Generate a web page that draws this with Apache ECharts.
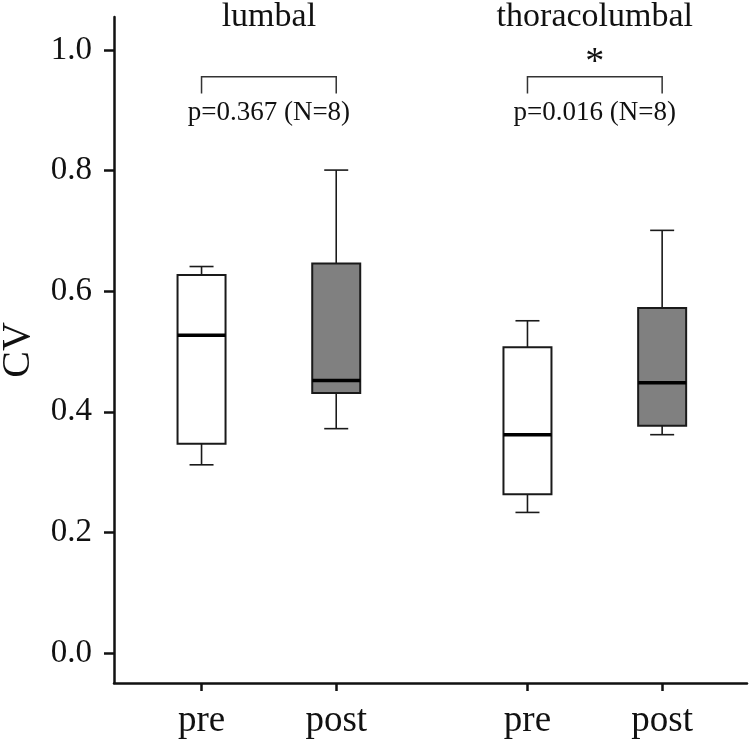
<!DOCTYPE html>
<html><head><meta charset="utf-8">
<script src="https://cdn.jsdelivr.net/npm/echarts@6/dist/echarts.min.js"></script>
<style>html,body{margin:0;padding:0;background:#fff}#c{width:750px;height:743px}</style>
</head><body><div id="c"></div>
<script>
// ---- data ----
const categories = ['pre', 'post', 'pre', 'post'];
const groupNames = ['lumbal', 'thoracolumbal'];
const mins    = [0.312, 0.372, 0.233, 0.362];
const q1s     = [0.347, 0.431, 0.263, 0.377];
const medians = [0.527, 0.452, 0.362, 0.448];
const q3s     = [0.627, 0.646, 0.507, 0.572];
const maxs    = [0.641, 0.801, 0.551, 0.701];
const yTicks  = [0, 0.2, 0.4, 0.6, 0.8, 1.0];
const pLabels = ['p=0.367 (N=8)', 'p=0.016 (N=8)'];
const sigMarks = ['', '*'];

// ---- layout / style constants ----
const GROUP_GAP = 0.42;
const pos = i => 1 + i + Math.floor(i / 2) * GROUP_GAP;
const positions = categories.map((_, i) => pos(i));
const BOX_W = 48, CAP_W = 24;
const FONT = '"Liberation Serif","Times New Roman",serif';
const INK = '#111111';
const BRACKET_TOP = 0.956, BRACKET_LEG = 0.928, P_Y = 0.8966, STAR_Y = 0.978, TITLE_Y = 1.055;

const boxData = positions.map((p, i) => [p, mins[i], q1s[i], medians[i], q3s[i], maxs[i]]);
const groupData = groupNames.map((g, k) => [positions[2 * k], positions[2 * k + 1]]);

function renderBox(params, api) {
  const x = api.value(0);
  const c = v => api.coord([x, v]);
  const pMin = c(api.value(1)), pQ1 = c(api.value(2)), pMed = c(api.value(3)),
        pQ3 = c(api.value(4)), pMax = c(api.value(5));
  const cx = pMin[0], hw = BOX_W / 2, cw = CAP_W / 2;
  const fill = params.dataIndex % 2 === 1 ? '#808080' : '#ffffff';
  const ls = { stroke: '#1a1a1a', lineWidth: 1.6 };
  return {
    type: 'group',
    children: [
      { type: 'line', shape: { x1: cx, y1: pQ3[1], x2: cx, y2: pMax[1] }, style: ls },
      { type: 'line', shape: { x1: cx, y1: pQ1[1], x2: cx, y2: pMin[1] }, style: ls },
      { type: 'line', shape: { x1: cx - cw, y1: pMax[1], x2: cx + cw, y2: pMax[1] }, style: ls },
      { type: 'line', shape: { x1: cx - cw, y1: pMin[1], x2: cx + cw, y2: pMin[1] }, style: ls },
      { type: 'rect', shape: { x: cx - hw, y: pQ3[1], width: 2 * hw, height: pQ1[1] - pQ3[1] },
        style: { fill: fill, stroke: '#1a1a1a', lineWidth: 2 } },
      { type: 'line', shape: { x1: cx - hw, y1: pMed[1], x2: cx + hw, y2: pMed[1] },
        style: { stroke: '#000', lineWidth: 3.5 } }
    ]
  };
}

function renderAnno(params, api) {
  const k = params.dataIndex;
  const x1 = api.value(0), x2 = api.value(1), xm = (x1 + x2) / 2;
  const a = api.coord([x1, BRACKET_LEG]), b = api.coord([x1, BRACKET_TOP]),
        c = api.coord([x2, BRACKET_TOP]), d = api.coord([x2, BRACKET_LEG]);
  const pt = api.coord([xm, P_Y]), st = api.coord([xm, STAR_Y]), tt = api.coord([xm, TITLE_Y]);
  return {
    type: 'group',
    children: [
      { type: 'polyline', shape: { points: [a, b, c, d] }, style: { stroke: '#333', lineWidth: 1.5, fill: null } },
      { type: 'text', style: { text: pLabels[k], x: pt[0], y: pt[1], align: 'center', verticalAlign: 'middle',
          font: '27px ' + FONT, fill: INK } },
      { type: 'text', style: { text: sigMarks[k], x: st[0], y: st[1], align: 'center', verticalAlign: 'middle',
          font: '38px ' + FONT, fill: INK } },
      { type: 'text', style: { text: groupNames[k], x: tt[0], y: tt[1], align: 'center', verticalAlign: 'middle',
          font: '34px ' + FONT, fill: INK } }
    ]
  };
}

const chart = echarts.init(document.getElementById('c'), null, { renderer: 'canvas' });
chart.setOption({
  animation: false,
  backgroundColor: '#ffffff',
  grid: { left: 114, right: 3, top: 17, bottom: 60, containLabel: false, outerBoundsMode: 'none' },
  xAxis: {
    type: 'value', min: 0.35, max: 5.05,
    splitLine: { show: false },
    axisLine: { onZero: false, lineStyle: { color: INK, width: 2.5 } },
    axisTick: { show: true, length: 8, lineStyle: { color: INK, width: 2.5 }, customValues: positions },
    axisLabel: {
      customValues: positions, margin: 20,
      formatter: v => { const i = positions.findIndex(p => Math.abs(p - v) < 1e-6); return i >= 0 ? categories[i] : ''; },
      fontSize: 37, fontFamily: FONT, color: INK
    }
  },
  yAxis: {
    type: 'value', min: -0.05, max: 1.055,
    name: 'CV', nameLocation: 'middle', nameGap: 76,
    nameTextStyle: { fontSize: 40, fontFamily: FONT, color: INK },
    splitLine: { show: false },
    axisLine: { show: true, onZero: false, lineStyle: { color: INK, width: 2.5 } },
    axisTick: { show: true, length: 10, lineStyle: { color: INK, width: 2.5 }, customValues: yTicks },
    axisLabel: {
      customValues: yTicks, margin: 22,
      formatter: v => v.toFixed(1),
      fontSize: 33, fontFamily: FONT, color: INK
    }
  },
  series: [
    { type: 'custom', name: 'boxes', renderItem: renderBox, data: boxData,
      encode: { x: 0, y: [1, 2, 3, 4, 5] }, clip: false },
    { type: 'custom', name: 'annotations', renderItem: renderAnno, data: groupData,
      encode: { x: [0, 1] }, clip: false }
  ]
});
</script></body></html>
